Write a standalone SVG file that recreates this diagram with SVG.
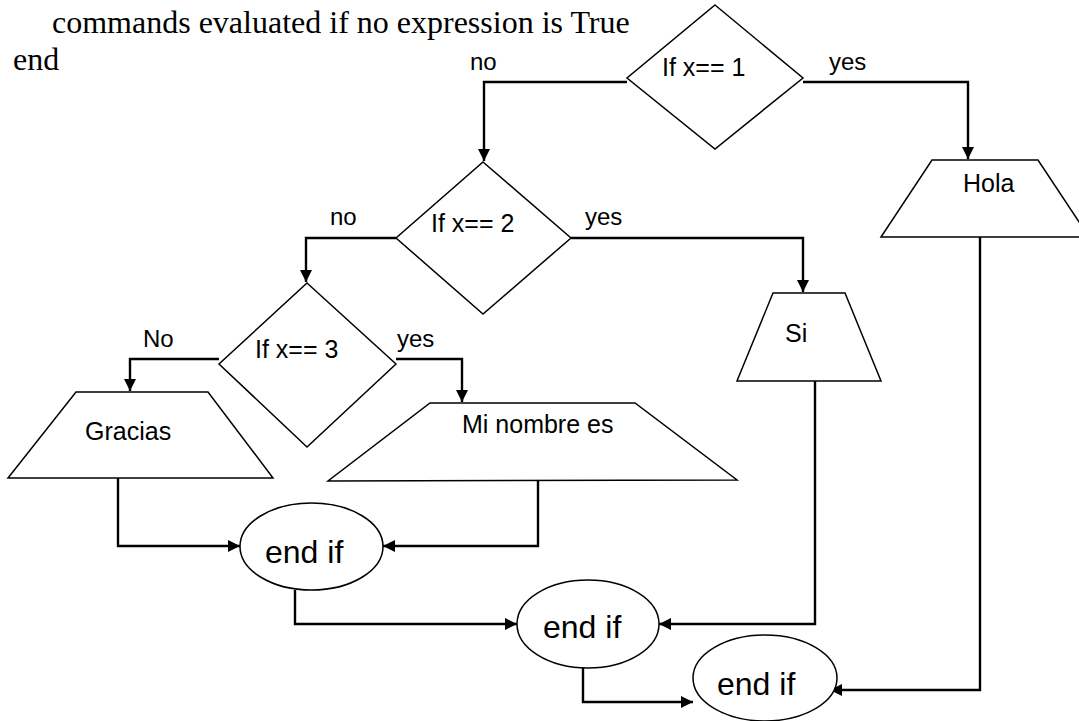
<svg xmlns="http://www.w3.org/2000/svg" width="1079" height="721" viewBox="0 0 1079 721">
  <style>
    .shape { fill: #ffffff; stroke: #000000; stroke-width: 1.5; }
    .conn { fill: none; stroke: #000000; stroke-width: 2.4; }
    .lbl { font-family: "Liberation Sans", Arial, sans-serif; font-size: 24px; fill: #000000; }
    .txt { font-family: "Liberation Sans", Arial, sans-serif; font-size: 25px; fill: #000000; }
    .end { font-family: "Liberation Sans", Arial, sans-serif; font-size: 32px; fill: #000000; }
    .head { font-family: "Liberation Serif", "Times New Roman", serif; font-size: 32px; fill: #000000; }
  </style>
  <defs>
    <marker id="arrow" markerUnits="userSpaceOnUse" markerWidth="13" markerHeight="13" refX="12" refY="6" orient="auto">
      <path d="M0,0 L12,6 L0,12 z" fill="#000000"/>
    </marker>
  </defs>

  <rect width="1079" height="721" fill="#ffffff"/>

  <!-- code text above the flowchart -->
  <g id="header">
    <text class="head" x="52" y="33">commands evaluated if no expression is True</text>
    <text class="head" x="13" y="70">end</text>
  </g>

  <!-- connectors -->
  <g id="connectors">
    <path class="conn" d="M627,82 H484 V161" marker-end="url(#arrow)"/>
    <path class="conn" d="M803,82 H968 V159" marker-end="url(#arrow)"/>
    <path class="conn" d="M396,238 H306 V282" marker-end="url(#arrow)"/>
    <path class="conn" d="M571,238 H803 V292" marker-end="url(#arrow)"/>
    <path class="conn" d="M219,359 H130 V391" marker-end="url(#arrow)"/>
    <path class="conn" d="M396,359 H462 V402" marker-end="url(#arrow)"/>
    <path class="conn" d="M118,478 V546 H240" marker-end="url(#arrow)"/>
    <path class="conn" d="M538,481 V546 H383" marker-end="url(#arrow)"/>
    <path class="conn" d="M295,590 V624 H517" marker-end="url(#arrow)"/>
    <path class="conn" d="M815,381 V624 H659" marker-end="url(#arrow)"/>
    <path class="conn" d="M583,668 V702 H693" marker-end="url(#arrow)"/>
    <path class="conn" d="M980,237 V690 H830" marker-end="url(#arrow)"/>
  </g>

  <!-- branch labels -->
  <g id="labels">
    <text class="lbl" x="470" y="70">no</text>
    <text class="lbl" x="829" y="70">yes</text>
    <text class="lbl" x="330" y="225">no</text>
    <text class="lbl" x="585" y="225">yes</text>
    <text class="lbl" x="143" y="347">No</text>
    <text class="lbl" x="397" y="347">yes</text>
  </g>

  <g id="if1">
    <polygon class="shape" points="715,5 803,78 715,149 627,78"/>
    <text class="txt" x="662" y="76">If x== 1</text>
  </g>

  <g id="if2">
    <polygon class="shape" points="483,162 571,238 483,314 396,238"/>
    <text class="txt" x="431" y="232">If x== 2</text>
  </g>

  <g id="if3">
    <polygon class="shape" points="307,283 396,364 307,447 219,364"/>
    <text class="txt" x="255" y="358">If x== 3</text>
  </g>

  <g id="hola">
    <polygon class="shape" points="932,160 1038,160 1089,237 881,237"/>
    <text class="txt" x="963" y="192">Hola</text>
  </g>

  <g id="si">
    <polygon class="shape" points="773,293 845,293 881,381 737,381"/>
    <text class="txt" x="785" y="342">Si</text>
  </g>

  <g id="gracias">
    <polygon class="shape" points="76,392 208,392 273,478 8,478"/>
    <text class="txt" x="85" y="440">Gracias</text>
  </g>

  <g id="minombre">
    <polygon class="shape" points="430,403 635,403 737,480 328,481"/>
    <text class="txt" x="462" y="433">Mi nombre es</text>
  </g>

  <g id="endif1">
    <ellipse class="shape" cx="311.5" cy="546.5" rx="71.5" ry="43.5"/>
    <text class="end" x="265" y="563">end if</text>
  </g>

  <g id="endif2">
    <ellipse class="shape" cx="588" cy="624" rx="71" ry="44"/>
    <text class="end" x="543" y="638">end if</text>
  </g>

  <g id="endif3">
    <ellipse class="shape" cx="765" cy="678" rx="72" ry="43"/>
    <text class="end" x="717" y="695">end if</text>
  </g>
</svg>
